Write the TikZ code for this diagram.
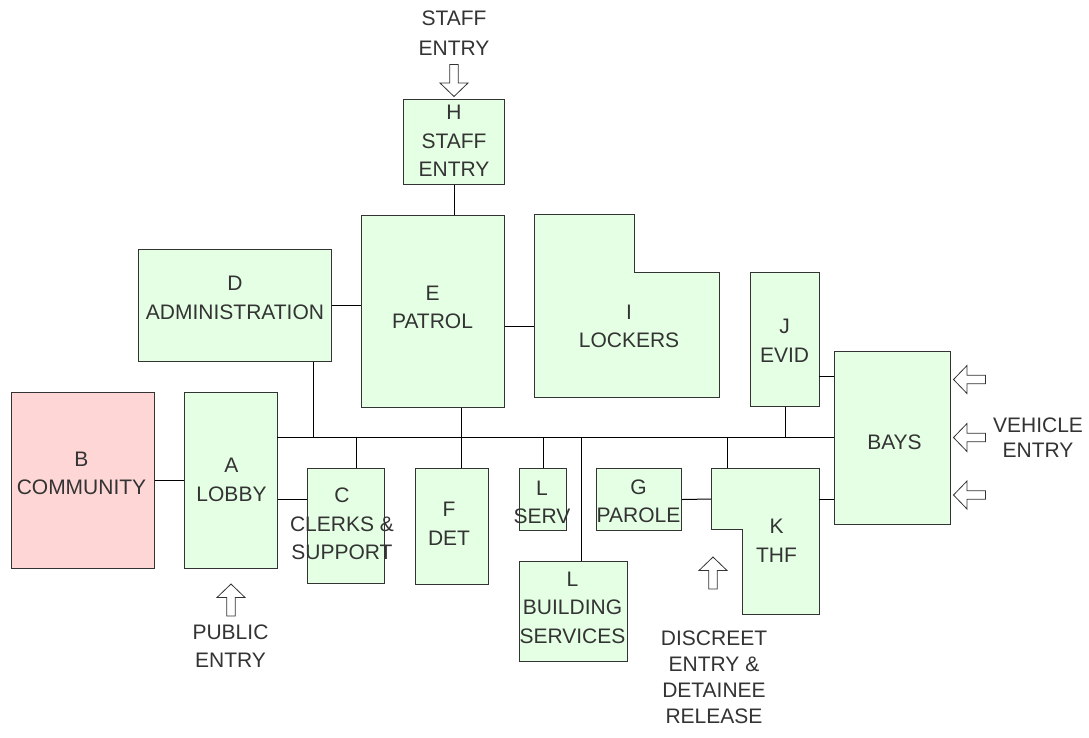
\documentclass[tikz,border=0pt]{standalone}
\usepackage{fontspec}
\setmainfont{Liberation Sans}
\definecolor{roomgreen}{HTML}{E5FFE5}
\definecolor{roompink}{HTML}{FFD6D6}
\definecolor{edge}{HTML}{333333}
\definecolor{ink}{HTML}{333333}
\begin{document}
\begin{tikzpicture}[x=1pt,y=-1pt,
  room/.style={draw=edge, fill=roomgreen, line width=1pt, inner sep=0pt, anchor=north west},
  txt/.style={text=ink, align=center, inner sep=0pt, font=\fontsize{21}{28.5}\selectfont},
  wire/.style={draw=black, line width=1pt},
  entryarrow/.pic={\draw[fill=white, draw=ink, line width=0.8pt] (0,0) -- (14,13.5) -- (4.2,13.5) -- (4.2,32) -- (-4.2,32) -- (-4.2,13.5) -- (-14,13.5) -- cycle;}
  ]
\useasboundingbox (0,0) rectangle (1089,737);

% rooms
\node[room, minimum width=101pt, minimum height=85pt]  (H) at (403,99) {};
\node[room, minimum width=193pt, minimum height=112pt] (D) at (138,249) {};
\node[room, minimum width=142.5pt, minimum height=192pt] (E) at (361,214.5) {};
\node[room, minimum width=69pt, minimum height=134pt]  (J) at (750,272) {};
\node[room, minimum width=116pt, minimum height=173pt] (BAYS) at (834,351) {};
\node[room, fill=roompink, minimum width=142.5pt, minimum height=176pt] (B) at (11,392) {};
\node[room, minimum width=93pt, minimum height=176pt]  (A) at (184,392) {};
\node[room, minimum width=77pt, minimum height=115pt]  (C) at (307,468) {};
\node[room, minimum width=73pt, minimum height=116pt]  (F) at (415,468) {};
\node[room, minimum width=47pt, minimum height=62pt]   (LS) at (519,468) {};
\node[room, minimum width=108pt, minimum height=100pt] (LB) at (519,561) {};
\node[room, minimum width=85pt, minimum height=62pt]   (G) at (596,468) {};
\draw[draw=edge, fill=roomgreen, line width=1pt] (534,214.5) -- (634,214.5) -- (634,272) -- (719,272) -- (719,397) -- (534,397) -- cycle;
\draw[draw=edge, fill=roomgreen, line width=1pt] (711,468) -- (819,468) -- (819,614) -- (742,614) -- (742,529) -- (711,529) -- cycle;

% room texts
\node[txt] (Ht) at (454,141) {H\\STAFF\\ENTRY};
\node[txt] (Dt) at (235,298) {D\\ADMINISTRATION};
\node[txt] (Et) at (432.5,307.5) {E\\PATROL};
\node[txt] (It) at (629,326.5) {I\\LOCKERS};
\node[txt] (Jt) at (784.5,341) {J\\EVID};
\node[txt] (BAYSt) at (894.5,442) {BAYS};
\node[txt] (Bt) at (81.5,473.5) {B\\COMMUNITY};
\node[txt] (At) at (231.5,480) {A\\LOBBY};
\node[txt] (Ct) at (342,524) {C\\CLERKS \&\\SUPPORT};
\node[txt] (Ft) at (449,524) {F\\DET};
\node[txt] (LSt) at (542,502.5) {L\\SERV};
\node[txt] (LBt) at (572.5,607.5) {L\\BUILDING\\SERVICES};
\node[txt] (Gt) at (638.5,501.5) {G\\PAROLE};
\node[txt] (Kt) at (776.5,541) {K\\THF};

% outside labels
\node[txt, font=\fontsize{21}{30}\selectfont] (staffL) at (454,33) {STAFF\\ENTRY};
\node[txt, font=\fontsize{21}{28}\selectfont] (pubL) at (230.5,646) {PUBLIC\\ENTRY};
\node[txt, font=\fontsize{21}{26}\selectfont] (discL) at (714,677) {DISCREET\\ENTRY \&\\DETAINEE\\RELEASE};
\node[txt, font=\fontsize{21}{25}\selectfont] (vehL) at (1038,437.5) {VEHICLE\\ENTRY};

% entry arrows
\pic[rotate=180] at (454,96.5) {entryarrow};
\pic at (231,584) {entryarrow};
\pic at (713,557) {entryarrow};
\pic[rotate=90] at (953.5,379.5) {entryarrow};
\pic[rotate=90] at (953.5,437.5) {entryarrow};
\pic[rotate=90] at (953.5,495) {entryarrow};

% connector points
\coordinate (busW) at (277,437.5);
\coordinate (busE) at (834,437.5);
\coordinate (busD) at (313,437.5);
\coordinate (busC) at (356,437.5);
\coordinate (busF) at (461,437.5);
\coordinate (busB) at (581,437.5);
\coordinate (busK) at (727,437.5);
\coordinate (Ktop) at (727,468);
\coordinate (Iw) at (534,326);
\coordinate (acY) at (300,499);
\coordinate (Kw) at (711,499);
\coordinate (Ke) at (819,499);
\coordinate (jb) at (819,376);

% connectors
\draw[wire] (busW) -- (busE);
\draw[wire] (H.south) -- (H.south |- E.north);
\draw[wire] (D.east) -- (D.east -| E.west);
\draw[wire] (D.south -| busD) -- (busD);
\draw[wire] (E.east |- Iw) -- (Iw);
\draw[wire] (busC) -- (busC |- C.north);
\draw[wire] (busF |- E.south) -- (busF |- F.north);
\draw[wire] (LS.north) -- (LS.north |- busW);
\draw[wire] (busB) -- (busB |- LB.north);
\draw[wire] (busK) -- (Ktop);
\draw[wire] (J.south) -- (J.south |- busW);
\draw[wire] (jb) -- (jb -| BAYS.west);
\draw[wire] (B.east) -- (A.west);
\draw[wire] (A.east |- acY) -- (C.west |- acY);
\draw[wire] (G.east) -- (Kw);
\draw[wire] (Ke) -- (Ke -| BAYS.west);
\end{tikzpicture}
\end{document}
